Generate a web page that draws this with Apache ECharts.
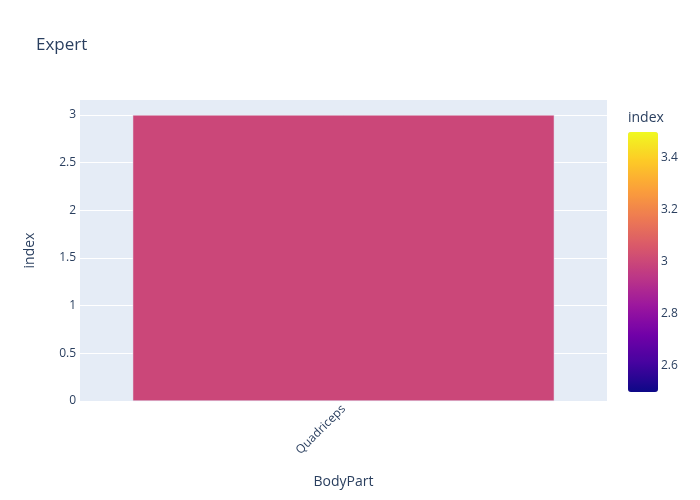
<!DOCTYPE html>
<html><head><meta charset="utf-8">
<script src="https://cdn.jsdelivr.net/npm/echarts@6/dist/echarts.min.js"></script>
<style>html,body{margin:0;padding:0;background:#fff}#c{width:700px;height:500px}</style>
</head><body><div id="c"></div>
<script>
const categories = ['Quadriceps'];
const values = [3];
const colorbarTicks = [2.6, 2.8, 3, 3.2, 3.4];
const plasma = ['#0d0887','#46039f','#7201a8','#9c179e','#bd3786','#d8576b','#ed7953','#fb9f3a','#fdca26','#f0f921'];
const txt = '#2a3f5f';
const ff = '"Open Sans", sans-serif';
const chart = echarts.init(document.getElementById('c'));
chart.setOption({
  animation: false,
  textStyle: {fontFamily: ff, color: txt},
  title: {text: 'Expert', left: 36, top: 37, padding: 0, textStyle: {fontFamily: ff, fontSize: 17, fontWeight: 'normal', color: txt}},
  grid: [
    {left: 80, top: 100, width: 527, height: 301, backgroundColor: '#E5ECF6', show: true, borderWidth: 0},
    {left: 628, top: 132, width: 30, height: 260, show: false}
  ],
  xAxis: [
    {type: 'category', gridIndex: 0, data: categories,
     axisLine: {show: false}, axisTick: {show: false}, splitLine: {show: false},
     axisLabel: {rotate: 45, margin: 6, color: txt, fontSize: 12, fontFamily: ff},
     name: 'BodyPart', nameLocation: 'middle', nameGap: 74, nameTextStyle: {fontSize: 14, color: txt, fontFamily: ff}},
    {type: 'value', gridIndex: 1, show: false}
  ],
  yAxis: [
    {type: 'value', gridIndex: 0, min: 0, max: 3.157, interval: 0.5,
     axisLine: {show: false}, axisTick: {show: false},
     splitLine: {show: true, showMinLine: false, showMaxLine: false, lineStyle: {color: '#fff', width: 1}},
     axisLabel: {showMaxLabel: false, margin: 4, color: txt, fontSize: 12, fontFamily: ff},
     name: 'index', nameLocation: 'middle', nameGap: 43, nameRotate: 90, nameTextStyle: {fontSize: 14, color: txt, fontFamily: ff}},
    {type: 'value', gridIndex: 1, position: 'right', min: 2.5, max: 3.5, interval: 0.1,
     axisLine: {show: false}, axisTick: {show: false}, splitLine: {show: false},
     axisLabel: {margin: 3, color: txt, fontSize: 12, fontFamily: ff,
       formatter: v => { const r = Math.round(v * 10) / 10; return colorbarTicks.some(t => Math.abs(t - r) < 1e-9) ? String(r) : ''; }}}
  ],
  visualMap: {type: 'continuous', min: 2.5, max: 3.5, seriesIndex: 0, dimension: 1,
    inRange: {color: plasma}, calculable: false, text: ['', ''], showLabel: false,
    itemWidth: 30, itemHeight: 260, left: 628, top: 132, padding: 0, hoverLink: false},
  graphic: [{type: 'text', left: 628, top: 111, style: {text: 'index', fill: txt, font: '14px ' + ff}}],
  series: [{type: 'bar', xAxisIndex: 0, yAxisIndex: 0, data: values, barWidth: '80%',
    itemStyle: {borderColor: '#E5ECF6', borderWidth: 0.5}}]
});
</script></body></html>
